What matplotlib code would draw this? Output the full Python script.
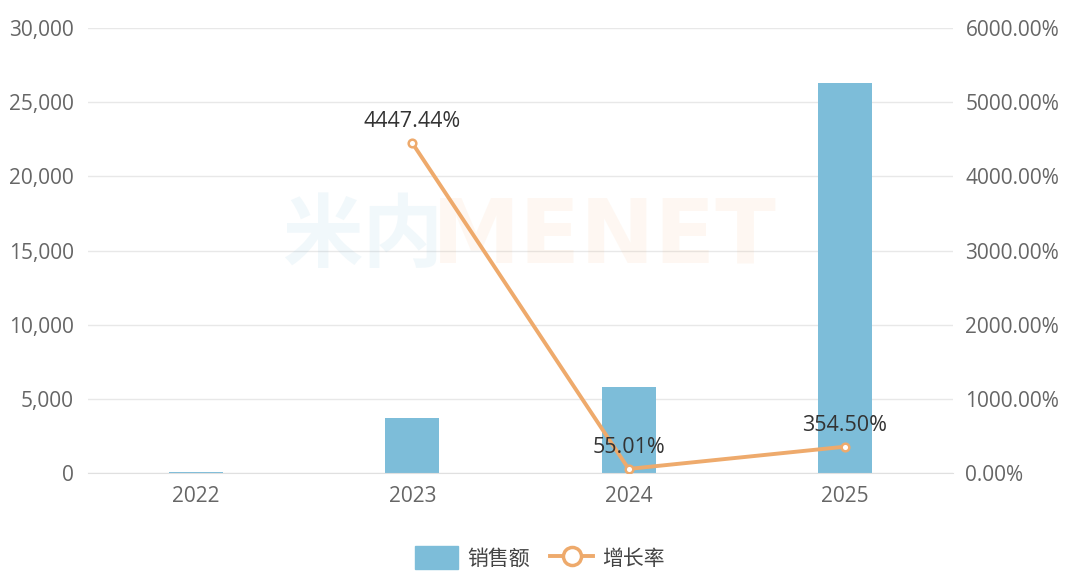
import matplotlib
matplotlib.use("Agg")
import matplotlib.pyplot as plt
from matplotlib.ticker import FuncFormatter, MultipleLocator
from matplotlib.lines import Line2D
from matplotlib.patches import Patch

years = ["2022", "2023", "2024", "2025"]
sales = [82, 3733, 5787, 26300]
growth = [None, 4447.44, 55.01, 354.50]
growth_labels = ["", "4447.44%", "55.01%", "354.50%"]

plt.rcParams['font.family'] = ['Open Sans', 'Noto Sans CJK SC', 'DejaVu Sans']

W, H = 1080, 581
fig = plt.figure(figsize=(W / 100, H / 100), dpi=100)
ax = fig.add_axes([88 / W, 1 - 473 / H, (953 - 88) / W, (473 - 28) / H])
ax2 = ax.twinx()

bar_c = "#7dbdd9"
line_c = "#eeaa6c"
tick_c = "#666666"
fs = 15

x = list(range(len(years)))
ax.bar(x, sales, width=0.25, color=bar_c, zorder=2)
ax.set_xlim(-0.5, len(years) - 0.5)
ax.set_ylim(0, 30000)
ax.yaxis.set_major_locator(MultipleLocator(5000))
ax.yaxis.set_major_formatter(FuncFormatter(lambda v, p: f"{v:,.0f}"))
ax.set_xticks(x)
ax.set_xticklabels(years)
ax.grid(axis='y', color="#e8e8e8", linewidth=1, zorder=0)
ax.set_axisbelow(True)

for a in (ax, ax2):
    for s in a.spines.values():
        s.set_visible(False)
ax.spines['bottom'].set_visible(True)
ax.spines['bottom'].set_color("#e0e0e0")
ax.tick_params(axis='both', length=0, labelsize=fs, labelcolor=tick_c)
ax.tick_params(axis='y', pad=10)
ax.tick_params(axis='x', pad=9)

ax2.set_ylim(0, 6000)
ax2.yaxis.set_major_locator(MultipleLocator(1000))
ax2.yaxis.set_major_formatter(FuncFormatter(lambda v, p: f"{v:.2f}%"))
ax2.tick_params(axis='y', length=0, labelsize=fs, labelcolor=tick_c, pad=9)

gx = [i for i, g in enumerate(growth) if g is not None]
gy = [g for g in growth if g is not None]
ax2.plot(gx, gy, color=line_c, linewidth=2.8, marker='o', markersize=5.5,
         markerfacecolor='white', markeredgecolor=line_c, markeredgewidth=1.8, zorder=5)
for i, g in enumerate(growth):
    if g is not None:
        ax2.annotate(growth_labels[i], (i, g), xytext=(0, 8), textcoords='offset points',
                     ha='center', va='bottom', fontsize=15.5, color="#333333", zorder=6)

# watermark
fig.text(282 / W, 1 - 238 / H, "米内", fontsize=58, fontweight='bold', color="#7dbdd9",
         alpha=0.1, ha='left', va='center', family=['Noto Sans CJK SC'])
fig.text(432 / W, 1 - 238 / H, "MENET", fontsize=64, fontweight='bold', color="#f4a460",
         alpha=0.08, ha='left', va='center', family=['DejaVu Sans'])

# legend
handles = [
    Patch(facecolor=bar_c, edgecolor=bar_c),
    Line2D([0], [0], color=line_c, linewidth=2.8, marker='o', markersize=13,
           markerfacecolor='white', markeredgecolor=line_c, markeredgewidth=2.5),
]
leg = fig.legend(handles, ["销售额", "增长率"], loc='center', bbox_to_anchor=(0.5, 1 - 558 / H),
                 ncol=2, frameon=False, fontsize=fs, handlelength=2.05, handleheight=1.3,
                 columnspacing=1.0, handletextpad=0.45)
for t in leg.get_texts():
    t.set_color("#444444")

fig.savefig("out.png", dpi=100)
